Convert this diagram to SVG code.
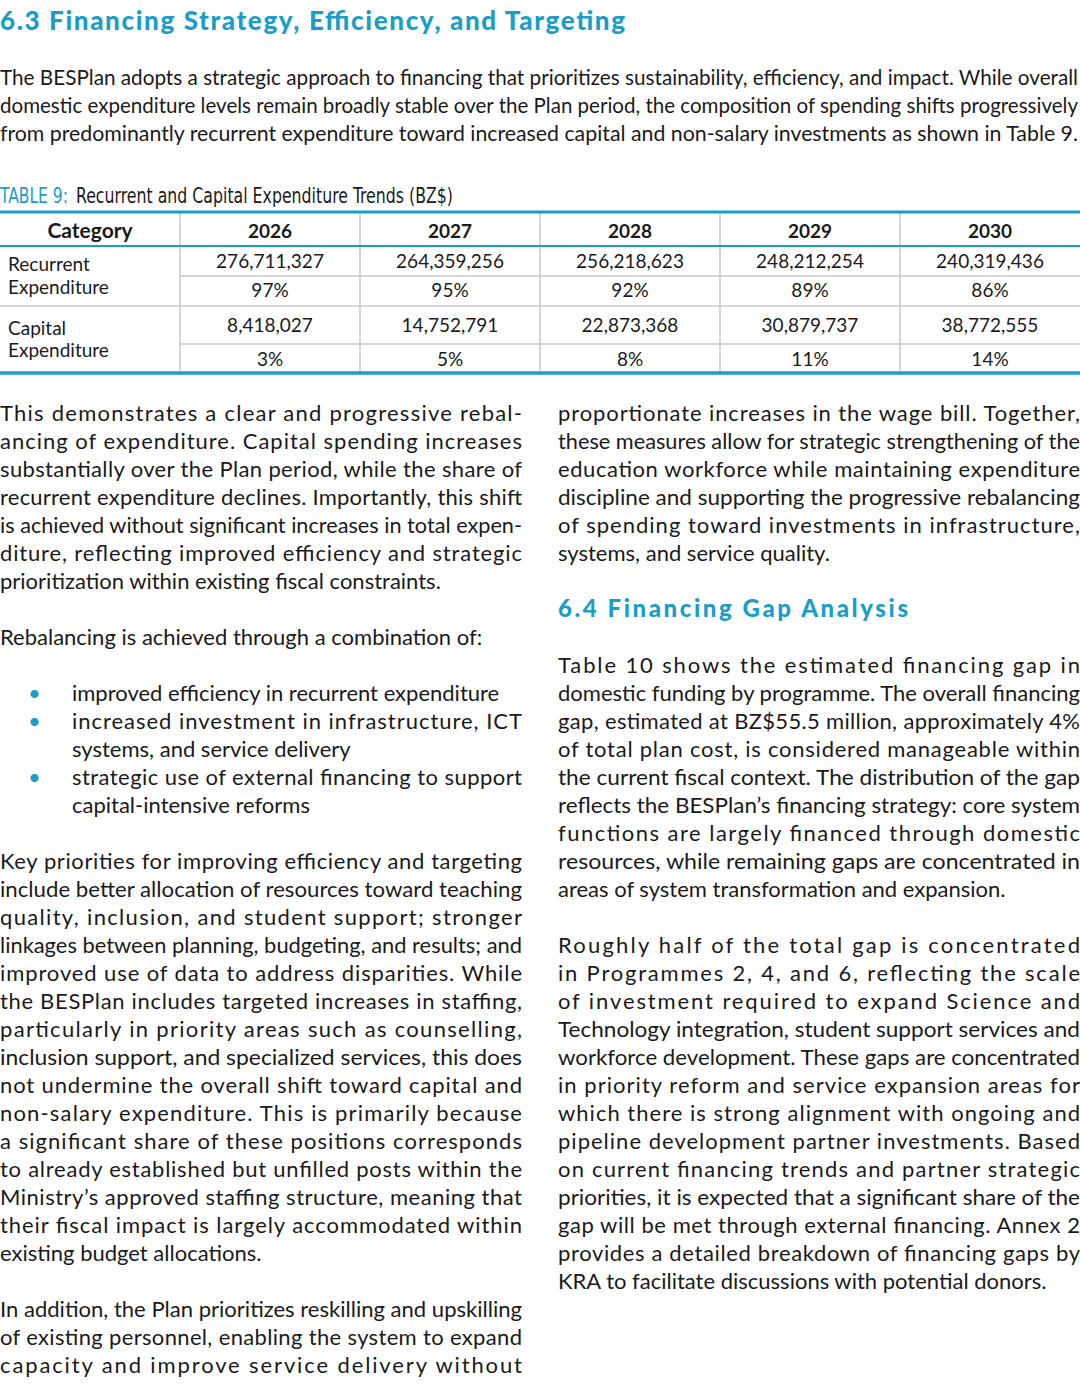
<svg xmlns="http://www.w3.org/2000/svg" width="1080" height="1386" viewBox="0 0 1080 1386">
<style>
.b{font-family:Lato,"Liberation Sans",sans-serif;font-size:22px;fill:#1a1a1a}
.h{font-family:Lato,"Liberation Sans",sans-serif;font-weight:900;fill:#1a9dc9}
.t{font-family:Lato,"Liberation Sans",sans-serif;font-size:19px;fill:#1a1a1a}
.c{text-anchor:middle}
.g{stroke:#c8c8c8;stroke-width:1.5}
.bl{stroke:#1a9dc9}
.bu{fill:#1a9dc9;font-family:Lato,sans-serif;font-size:22px}
</style>
<rect width="1080" height="1386" fill="#fff"/>
<text class="h" x="0" y="30" font-size="26" textLength="625" lengthAdjust="spacing">6.3 Financing Strategy, Efficiency, and Targeting</text>
<g class="b" font-size="21">
<text x="0" y="85" font-size="21" textLength="1078" lengthAdjust="spacingAndGlyphs">The BESPlan adopts a strategic approach to financing that prioritizes sustainability, efficiency, and impact. While overall</text>
<text x="0" y="113" font-size="21" textLength="1078" lengthAdjust="spacingAndGlyphs">domestic expenditure levels remain broadly stable over the Plan period, the composition of spending shifts progressively</text>
<text x="0" y="141" font-size="21" textLength="1078" lengthAdjust="spacingAndGlyphs">from predominantly recurrent expenditure toward increased capital and non-salary investments as shown in Table 9.</text>
</g>
<text x="0" y="203" fill="#1a9dc9" font-family="'DejaVu Sans Condensed','Liberation Sans',sans-serif" font-size="21" textLength="68" lengthAdjust="spacingAndGlyphs">TABLE 9:</text>
<text x="76" y="203" fill="#1a1a1a" font-family="'DejaVu Sans Condensed','Liberation Sans',sans-serif" font-size="21" textLength="377" lengthAdjust="spacingAndGlyphs">Recurrent and Capital Expenditure Trends (BZ$)</text>
<g id="table">
<line class="g" x1="180" y1="213" x2="180" y2="372"/><line class="g" x1="360" y1="213" x2="360" y2="372"/><line class="g" x1="540" y1="213" x2="540" y2="372"/><line class="g" x1="720" y1="213" x2="720" y2="372"/><line class="g" x1="900" y1="213" x2="900" y2="372"/>
<line class="g" x1="180" y1="276" x2="1080" y2="276"/><line class="g" x1="0" y1="306" x2="1080" y2="306"/><line class="g" x1="180" y1="344" x2="1080" y2="344"/>
<line class="bl" x1="0" y1="212" x2="1080" y2="212" stroke-width="3"/>
<line class="bl" x1="0" y1="246" x2="1080" y2="246" stroke-width="2"/>
<line class="bl" x1="0" y1="373" x2="1080" y2="373" stroke-width="3.5"/>
<g class="t c" font-size="22" font-weight="bold">
<text x="90" y="238" font-size="21">Category</text><text x="270" y="238">2026</text><text x="450" y="238">2027</text><text x="630" y="238">2028</text><text x="810" y="238">2029</text><text x="990" y="238">2030</text>
</g>
<g class="t">
<text x="8" y="271">Recurrent</text><text x="8" y="294">Expenditure</text>
<text x="8" y="335">Capital</text><text x="8" y="357">Expenditure</text>
</g>
<g class="t c" font-size="18">
<text x="270" y="268">276,711,327</text><text x="450" y="268">264,359,256</text><text x="630" y="268">256,218,623</text><text x="810" y="268">248,212,254</text><text x="990" y="268">240,319,436</text>
<text x="270" y="297">97%</text><text x="450" y="297">95%</text><text x="630" y="297">92%</text><text x="810" y="297">89%</text><text x="990" y="297">86%</text>
<text x="270" y="332">8,418,027</text><text x="450" y="332">14,752,791</text><text x="630" y="332">22,873,368</text><text x="810" y="332">30,879,737</text><text x="990" y="332">38,772,555</text>
<text x="270" y="366">3%</text><text x="450" y="366">5%</text><text x="630" y="366">8%</text><text x="810" y="366">11%</text><text x="990" y="366">14%</text>
</g>
</g>
<g class="b">
<text x="0" y="421" textLength="522" lengthAdjust="spacing">This demonstrates a clear and progressive rebal-</text>
<text x="0" y="449" textLength="522" lengthAdjust="spacing">ancing of expenditure. Capital spending increases</text>
<text x="0" y="477" textLength="522" lengthAdjust="spacing">substantially over the Plan period, while the share of</text>
<text x="0" y="505" textLength="522" lengthAdjust="spacing">recurrent expenditure declines. Importantly, this shift</text>
<text x="0" y="533" textLength="522" lengthAdjust="spacingAndGlyphs">is achieved without significant increases in total expen-</text>
<text x="0" y="561" textLength="522" lengthAdjust="spacing">diture, reflecting improved efficiency and strategic</text>
<text x="0" y="589">prioritization within existing fiscal constraints.</text>
<text x="0" y="645">Rebalancing is achieved through a combination of:</text>
<text x="72" y="701">improved efficiency in recurrent expenditure</text>
<text x="72" y="729" textLength="450" lengthAdjust="spacing">increased investment in infrastructure, ICT</text>
<text x="72" y="757">systems, and service delivery</text>
<text x="72" y="785" textLength="450" lengthAdjust="spacing">strategic use of external financing to support</text>
<text x="72" y="813">capital-intensive reforms</text>
<text x="0" y="869" textLength="522" lengthAdjust="spacing">Key priorities for improving efficiency and targeting</text>
<text x="0" y="897" textLength="522" lengthAdjust="spacingAndGlyphs">include better allocation of resources toward teaching</text>
<text x="0" y="925" textLength="522" lengthAdjust="spacing">quality, inclusion, and student support; stronger</text>
<text x="0" y="953" textLength="522" lengthAdjust="spacingAndGlyphs">linkages between planning, budgeting, and results; and</text>
<text x="0" y="981" textLength="522" lengthAdjust="spacing">improved use of data to address disparities. While</text>
<text x="0" y="1009" textLength="522" lengthAdjust="spacing">the BESPlan includes targeted increases in staffing,</text>
<text x="0" y="1037" textLength="522" lengthAdjust="spacing">particularly in priority areas such as counselling,</text>
<text x="0" y="1065" textLength="522" lengthAdjust="spacingAndGlyphs">inclusion support, and specialized services, this does</text>
<text x="0" y="1093" textLength="522" lengthAdjust="spacing">not undermine the overall shift toward capital and</text>
<text x="0" y="1121" textLength="522" lengthAdjust="spacing">non-salary expenditure. This is primarily because</text>
<text x="0" y="1149" textLength="522" lengthAdjust="spacing">a significant share of these positions corresponds</text>
<text x="0" y="1177" textLength="522" lengthAdjust="spacing">to already established but unfilled posts within the</text>
<text x="0" y="1205" textLength="522" lengthAdjust="spacing">Ministry’s approved staffing structure, meaning that</text>
<text x="0" y="1233" textLength="522" lengthAdjust="spacing">their fiscal impact is largely accommodated within</text>
<text x="0" y="1261">existing budget allocations.</text>
<text x="0" y="1317" textLength="522" lengthAdjust="spacingAndGlyphs">In addition, the Plan prioritizes reskilling and upskilling</text>
<text x="0" y="1345" textLength="522" lengthAdjust="spacing">of existing personnel, enabling the system to expand</text>
<text x="0" y="1373" textLength="522" lengthAdjust="spacing">capacity and improve service delivery without</text>
<text x="558" y="421" textLength="522" lengthAdjust="spacing">proportionate increases in the wage bill. Together,</text>
<text x="558" y="449" textLength="522" lengthAdjust="spacingAndGlyphs">these measures allow for strategic strengthening of the</text>
<text x="558" y="477" textLength="522" lengthAdjust="spacing">education workforce while maintaining expenditure</text>
<text x="558" y="505" textLength="522" lengthAdjust="spacingAndGlyphs">discipline and supporting the progressive rebalancing</text>
<text x="558" y="533" textLength="522" lengthAdjust="spacing">of spending toward investments in infrastructure,</text>
<text x="558" y="561">systems, and service quality.</text>
<text x="558" y="673" textLength="522" lengthAdjust="spacing">Table 10 shows the estimated financing gap in</text>
<text x="558" y="701" textLength="522" lengthAdjust="spacingAndGlyphs">domestic funding by programme. The overall financing</text>
<text x="558" y="729" textLength="522" lengthAdjust="spacing">gap, estimated at BZ$55.5 million, approximately 4%</text>
<text x="558" y="757" textLength="522" lengthAdjust="spacing">of total plan cost, is considered manageable within</text>
<text x="558" y="785" textLength="522" lengthAdjust="spacingAndGlyphs">the current fiscal context. The distribution of the gap</text>
<text x="558" y="813" textLength="522" lengthAdjust="spacingAndGlyphs">reflects the BESPlan’s financing strategy: core system</text>
<text x="558" y="841" textLength="522" lengthAdjust="spacing">functions are largely financed through domestic</text>
<text x="558" y="869" textLength="522" lengthAdjust="spacingAndGlyphs">resources, while remaining gaps are concentrated in</text>
<text x="558" y="897">areas of system transformation and expansion.</text>
<text x="558" y="953" textLength="522" lengthAdjust="spacing">Roughly half of the total gap is concentrated</text>
<text x="558" y="981" textLength="522" lengthAdjust="spacing">in Programmes 2, 4, and 6, reflecting the scale</text>
<text x="558" y="1009" textLength="522" lengthAdjust="spacing">of investment required to expand Science and</text>
<text x="558" y="1037" textLength="522" lengthAdjust="spacingAndGlyphs">Technology integration, student support services and</text>
<text x="558" y="1065" textLength="522" lengthAdjust="spacingAndGlyphs">workforce development. These gaps are concentrated</text>
<text x="558" y="1093" textLength="522" lengthAdjust="spacing">in priority reform and service expansion areas for</text>
<text x="558" y="1121" textLength="522" lengthAdjust="spacing">which there is strong alignment with ongoing and</text>
<text x="558" y="1149" textLength="522" lengthAdjust="spacing">pipeline development partner investments. Based</text>
<text x="558" y="1177" textLength="522" lengthAdjust="spacing">on current financing trends and partner strategic</text>
<text x="558" y="1205" textLength="522" lengthAdjust="spacingAndGlyphs">priorities, it is expected that a significant share of the</text>
<text x="558" y="1233" textLength="522" lengthAdjust="spacing">gap will be met through external financing. Annex 2</text>
<text x="558" y="1261" textLength="522" lengthAdjust="spacing">provides a detailed breakdown of financing gaps by</text>
<text x="558" y="1289">KRA to facilitate discussions with potential donors.</text>
</g>
<text class="bu" x="28" y="701">•</text><text class="bu" x="28" y="729">•</text><text class="bu" x="28" y="785">•</text>
<text class="h" x="558" y="617" font-size="24" textLength="350" lengthAdjust="spacing">6.4 Financing Gap Analysis</text>
</svg>
